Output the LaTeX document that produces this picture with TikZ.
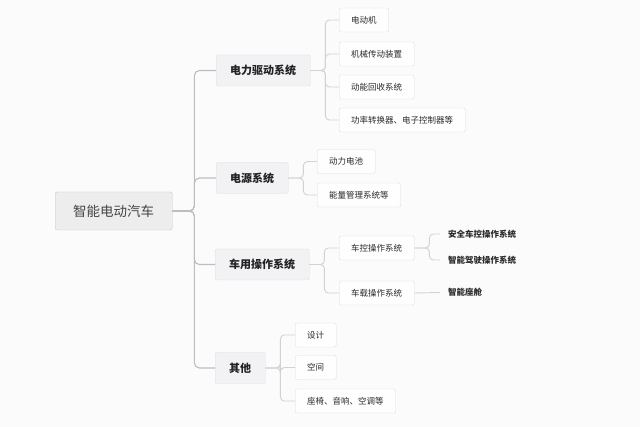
\documentclass[tikz,border=0pt]{standalone}
\usepackage{fontspec}
\newfontfamily\cjk{Noto Sans CJK SC}
\definecolor{bg}{HTML}{FCFBFC}
\definecolor{rootfill}{HTML}{EEEDEE}
\definecolor{rootline}{HTML}{C8C7C8}
\definecolor{roottext}{HTML}{444444}
\definecolor{lonefill}{HTML}{F2F1F3}
\definecolor{loneline}{HTML}{DEDDDF}
\definecolor{lonetext}{HTML}{222222}
\definecolor{ltwofill}{HTML}{FEFEFE}
\definecolor{ltwoline}{HTML}{DEDEDE}
\definecolor{ltwotext}{HTML}{2A2A2A}
\definecolor{trunkc}{HTML}{BDBDBD}
\definecolor{twigc}{HTML}{D2D2D2}
\tikzset{
 rootbox/.style={draw=rootline, fill=rootfill, rounded corners=2pt, font=\cjk\fontsize{13.5}{16}\selectfont, text=roottext, inner xsep=18pt, inner ysep=0pt, minimum height=38pt, anchor=west},
 lone/.style={draw=loneline, fill=lonefill, rounded corners=2pt, font=\cjk\bfseries\fontsize{11}{13}\selectfont, text=lonetext, inner xsep=14pt, inner ysep=0pt, minimum height=31pt, anchor=west},
 ltwo/.style={draw=ltwoline, fill=ltwofill, rounded corners=2pt, font=\cjk\fontsize{8.5}{10}\selectfont, text=ltwotext, inner xsep=12pt, inner ysep=0pt, minimum height=24pt, anchor=west},
 lthree/.style={font=\cjk\bfseries\fontsize{8.5}{10}\selectfont, text=ltwotext, inner xsep=8pt, inner ysep=2pt, anchor=west},
 trunk/.style={draw=trunkc, line width=1.1pt, rounded corners=5pt},
 twig/.style={draw=twigc, line width=0.9pt, rounded corners=4pt},
}
\begin{document}
\begin{tikzpicture}[x=1pt,y=-1pt]
\fill[bg] (0,0) rectangle (640,427);
\useasboundingbox (0,0) rectangle (640,427);
% root
\node[rootbox] (root) at (55,211) {智能电动汽车};
% level 1
\node[lone] (pa) at (216,70.5) {电力驱动系统};
\node[lone] (pb) at (216,178) {电源系统};
\node[lone] (pc) at (215,264.5) {车用操作系统};
\node[lone] (pd) at (215,368) {其他};
% level 2
\node[ltwo] (a1) at (339,20) {电动机};
\node[ltwo] (a2) at (339,54) {机械传动装置};
\node[ltwo] (a3) at (339,87) {动能回收系统};
\node[ltwo] (a4) at (339,120) {功率转换器、电子控制器等};
\node[ltwo] (b1) at (317,161.5) {动力电池};
\node[ltwo] (b2) at (317,195) {能量管理系统等};
\node[ltwo] (c1) at (339,248) {车控操作系统};
\node[ltwo] (c2) at (339,293) {车载操作系统};
\node[ltwo] (d1) at (295,335) {设计};
\node[ltwo] (d2) at (295,367.5) {空间};
\node[ltwo] (d3) at (295,401) {座椅、音响、空调等};
% level 3
\node[lthree] (t1) at (440,234) {安全车控操作系统};
\node[lthree] (t2) at (440,260) {智能驾驶操作系统};
\node[lthree] (t3) at (440,292.5) {智能座舱};
% connectors
\foreach \c in {pa,pb,pc,pd}
  \draw[trunk] (root.east) -- ++(22,0) |- (\c.west);
\foreach \c in {a1,a2,a3,a4}
  \draw[twig] (pa.east) -- ++(15,0) |- (\c.west);
\foreach \c in {b1,b2}
  \draw[twig] (pb.east) -- ++(15,0) |- (\c.west);
\foreach \c in {c1,c2}
  \draw[twig] (pc.east) -- ++(15,0) |- (\c.west);
\foreach \c in {d1,d2,d3}
  \draw[twig] (pd.east) -- ++(15,0) |- (\c.west);
\foreach \c in {t1,t2}
  \draw[twig] (c1.east) -- ++(15,0) |- (\c.west);
\draw[twig] (c2.east) -- (t3.west);
\end{tikzpicture}
\end{document}
